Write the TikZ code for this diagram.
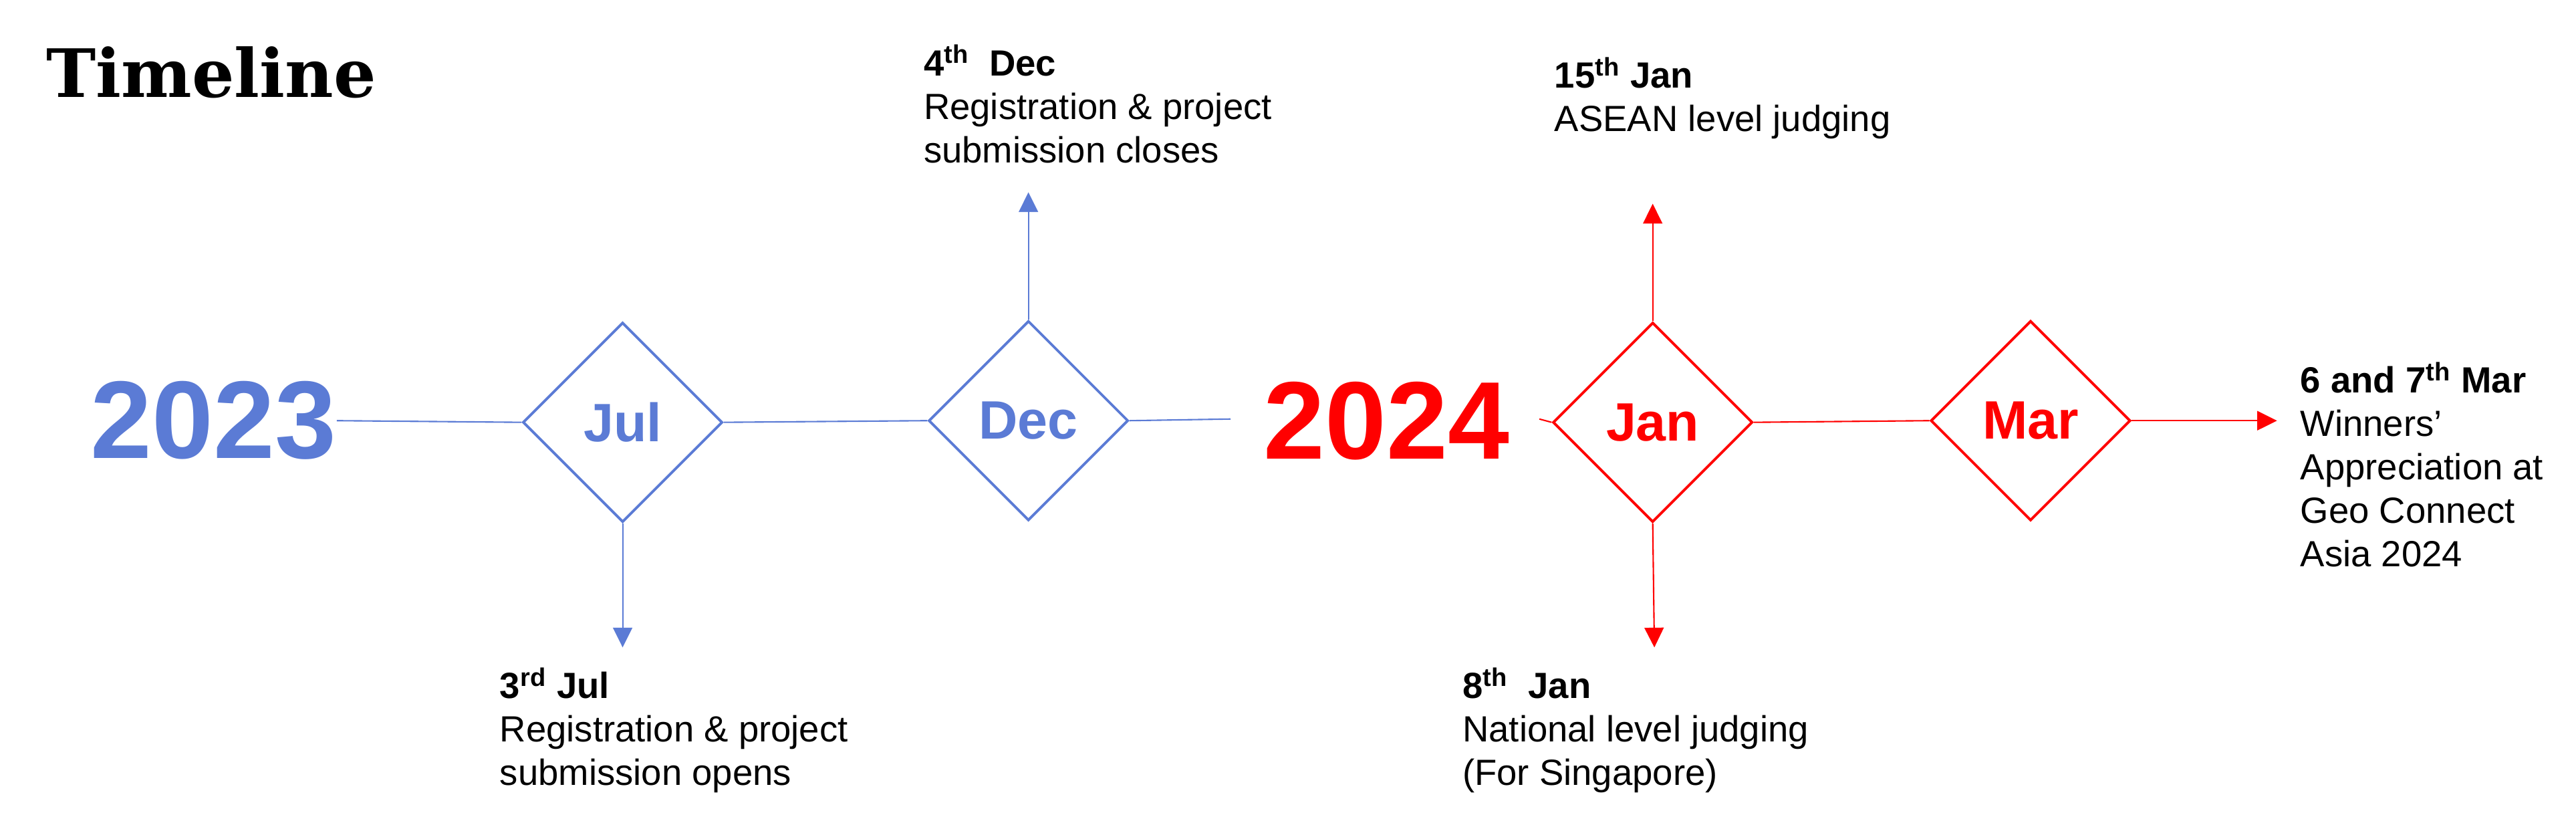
\documentclass[tikz,border=0pt]{standalone}
\usepackage{fontspec}
\setmainfont{Liberation Sans}
\newfontfamily\titlefont{DejaVu Serif}
\usepackage{xcolor}
\definecolor{tlblue}{HTML}{5B7BD5}
\definecolor{tlred}{HTML}{FF0000}
\usetikzlibrary{shapes.geometric,arrows.meta,positioning,calc}

\begin{document}
\begin{tikzpicture}[x=0.2458mm,y=-0.2458mm,
    year/.style={font=\fontsize{47}{50}\selectfont\bfseries,inner sep=0pt},
    month/.style={diamond,draw,line width=1.1pt,aspect=1,minimum width=85pt,minimum height=85pt,inner sep=0pt,font=\fontsize{23}{26}\selectfont\bfseries},
    event/.style={align=left,anchor=base west,inner sep=0pt,font=\fontsize{15.5}{18.5}\selectfont},
    link/.style={line width=0.6pt},
    tip/.style={link,-{Triangle[length=8.4pt,width=8.2pt]}}]
    \useasboundingbox (0,0) rectangle (1568,502);

    \node[anchor=base west,inner sep=0pt,font=\titlefont\fontsize{28.4}{32}\selectfont\bfseries] (title) at (28,59) {Timeline};

    % years and months
    \node[year,text=tlblue] (y23) at (130,256) {2023};
    \node[month,draw=tlblue,text=tlblue] (jul) at (379,257) {Jul};
    \node[month,draw=tlblue,text=tlblue] (dec) at (626,256) {Dec};
    \node[year,text=tlred] (y24) at (844,256) {2024};
    \node[month,draw=tlred,text=tlred] (jan) at (1006,257) {Jan};
    \node[month,draw=tlred,text=tlred] (mar) at (1236,256) {Mar};

    % events (placed by the baseline of their last line)
    \node[event] (ejul) at (304,478) {\textbf{3\textsuperscript{rd} Jul}\\Registration \& project\\submission opens};
    \node[event] (edec) at (562,99) {\textbf{4\textsuperscript{th}\ \ Dec}\\Registration \& project\\submission closes};
    \node[event] (ejana) at (946,80) {\textbf{15\textsuperscript{th} Jan}\\ASEAN level judging};
    \node[event] (ejanb) at (890,478) {\textbf{8\textsuperscript{th}\ \ Jan}\\National level judging\\(For Singapore)};
    \node[event] (emar) at (1400,345) {\textbf{6 and 7\textsuperscript{th} Mar}\\Winners’\\Appreciation at\\Geo Connect\\Asia 2024};

    \coordinate (julend) at (379,394);
    \coordinate (decend) at (626,117);
    \coordinate (decout) at (749,255);
    \coordinate (janin) at (937,255);
    \coordinate (janaend) at (1006,124);
    \coordinate (janbend) at (1007,394);
    \coordinate (marend) at (1386,256);

    \draw[link,tlblue] (y23.east) -- (jul.west);
    \draw[link,tlblue] (jul.east) -- (dec.west);
    \draw[link,tlblue] (dec.east) -- (decout);
    \draw[tip,tlblue] (jul.south) -- (julend);
    \draw[tip,tlblue] (dec.north) -- (decend);

    \draw[link,tlred] (janin) -- (jan.west);
    \draw[link,tlred] (jan.east) -- (mar.west);
    \draw[tip,tlred] (jan.north) -- (janaend);
    \draw[tip,tlred] (jan.south) -- (janbend);
    \draw[tip,tlred] (mar.east) -- (marend);
\end{tikzpicture}
\end{document}
